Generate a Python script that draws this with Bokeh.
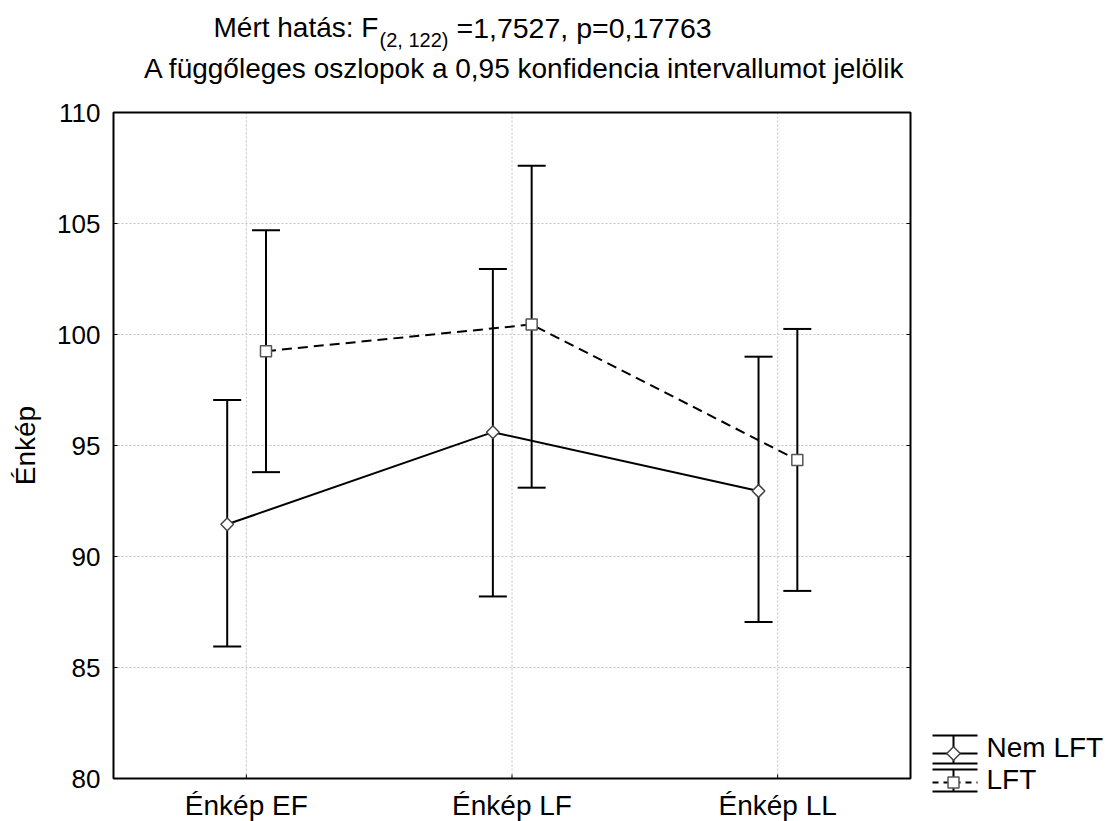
from bokeh.plotting import figure
from bokeh.models import (Range1d, Whisker, TeeHead, ColumnDataSource)
from bokeh.core.properties import value
from bokeh.embed import file_html
from bokeh.resources import INLINE
import math

# ---- data ----
categories = ["Énkép EF", "Énkép LF", "Énkép LL"]
series_names = ["Nem LFT", "LFT"]
nem_mean = [91.45, 95.6, 92.95]
nem_upper = [97.05, 102.95, 99.0]
nem_lower = [85.95, 88.2, 87.05]
lft_mean = [99.25, 100.45, 94.35]
lft_upper = [104.7, 107.6, 100.25]
lft_lower = [93.8, 93.1, 88.45]
y_ticks = [80, 85, 90, 95, 100, 105, 110]
y_tick_labels = [str(t) for t in y_ticks]
title_a = "Mért hatás: F"
title_sub = "(2, 122)"
title_c = "=1,7527, p=0,17763"
title_2 = "A függőleges oszlopok a 0,95 konfidencia intervallumot jelölik"
y_label = "Énkép"

FONT = "Liberation Sans"

# ---- layout constants (pixels) ----
W, H = 1108, 821
BOX_L, BOX_R, BOX_T, BOX_B = 113, 910, 112, 778
ncat = len(categories)
px_per_x = (BOX_R - BOX_L) / ncat
px_per_y = (BOX_B - BOX_T) / (y_ticks[-1] - y_ticks[0])
x_start = -0.5 - BOX_L / px_per_x
x_end = -0.5 + (W - BOX_L) / px_per_x
y_start = y_ticks[0] - (H - BOX_B) / px_per_y
y_end = y_ticks[-1] + BOX_T / px_per_y

p = figure(x_range=Range1d(x_start, x_end), y_range=Range1d(y_start, y_end),
           frame_width=W, frame_height=H, min_border=0,
           x_axis_location=None, y_axis_location=None,
           toolbar_location=None, output_backend="svg")
p.extra_x_ranges = {"px": Range1d(0, W)}
p.extra_y_ranges = {"px": Range1d(H, 0)}
p.outline_line_color = None
p.background_fill_color = "white"
p.border_fill_color = "white"
p.grid.visible = False

xc = list(range(ncat))
x_lo, x_hi = xc[0] - 0.5, xc[-1] + 0.5
y_lo, y_hi = y_ticks[0], y_ticks[-1]

# dotted grid
inner = y_ticks[1:-1]
p.segment(x0=[x_lo] * len(inner), x1=[x_hi] * len(inner), y0=inner, y1=inner,
          line_color="#c4c4c4", line_dash="2 2", line_width=1)
p.segment(x0=xc, x1=xc, y0=[y_lo] * ncat, y1=[y_hi] * ncat,
          line_color="#c4c4c4", line_dash="2 2", line_width=1)

# inward ticks
tlx = 4 / px_per_x
tly = 4 / px_per_y
p.segment(x0=xc, x1=xc, y0=[y_lo] * ncat, y1=[y_lo + tly] * ncat, line_color="black", line_width=1)
p.segment(x0=[x_hi - tlx] * len(y_ticks), x1=[x_hi] * len(y_ticks), y0=y_ticks, y1=y_ticks,
          line_color="black", line_width=1)
p.segment(x0=[x_lo] * len(y_ticks), x1=[x_lo + tlx] * len(y_ticks), y0=y_ticks, y1=y_ticks,
          line_color="black", line_width=1)

OFF_N = -0.072
OFF_L = 0.074
src_nem = ColumnDataSource(dict(x=[c + OFF_N for c in xc], mean=nem_mean, upper=nem_upper, lower=nem_lower))
src_lft = ColumnDataSource(dict(x=[c + OFF_L for c in xc], mean=lft_mean, upper=lft_upper, lower=lft_lower))

for src in (src_nem, src_lft):
    w = Whisker(base="x", upper="upper", lower="lower", source=src,
                line_color="black", line_width=2,
                upper_head=TeeHead(size=28, line_width=2, line_color="black"),
                lower_head=TeeHead(size=28, line_width=2, line_color="black"),
                level="glyph")
    p.add_layout(w)

p.line(x="x", y="mean", source=src_nem, line_color="black", line_width=2)
p.line(x="x", y="mean", source=src_lft, line_color="black", line_width=2, line_dash="10 6")

p.scatter(x="x", y="mean", source=src_nem, marker="square", angle=math.pi / 4, size=9,
          fill_color="white", line_color="#444444", line_width=1.5, level="overlay")
p.scatter(x="x", y="mean", source=src_lft, marker="square", size=11,
          fill_color="white", line_color="#555555", line_width=1.5, level="overlay")

# plot box
p.quad(left=[x_lo], right=[x_hi], bottom=[y_lo], top=[y_hi], fill_color=None,
       line_color="black", line_width=2, level="overlay")

TXT = dict(text_font=value(FONT), text_color="black", text_baseline="middle")

# y tick labels
p.text(x=[100] * len(y_ticks), y=y_ticks, x_range_name="px", text=y_tick_labels,
       text_font_size="26px", text_align="right", **TXT)

# category labels
p.text(x=xc, y=[805] * ncat, y_range_name="px", text=categories,
       text_font_size="28px", text_align="center", **TXT)

# y-axis title
p.text(x=[25], y=[(BOX_T + BOX_B) / 2], x_range_name="px", y_range_name="px", text=[y_label],
       angle=math.pi / 2, text_font_size="28px", text_align="center", **TXT)

# titles
p.text(x=[213], y=[27], x_range_name="px", y_range_name="px", text=[title_a],
       text_font_size="28px", text_align="left", **TXT)
p.text(x=[379], y=[39], x_range_name="px", y_range_name="px", text=[title_sub],
       text_font_size="20px", text_align="left", **TXT)
p.text(x=[456], y=[27], x_range_name="px", y_range_name="px", text=[title_c],
       text_font_size="28.5px", text_align="left", **TXT)
p.text(x=[524], y=[68], x_range_name="px", y_range_name="px", text=[title_2],
       text_font_size="28px", text_align="center", **TXT)

# legend
ix0, ix1, ixc = 932, 977, 953
p.segment(x0=[ix0, ix0, ix0, ixc], y0=[735, 753, 763, 735],
          x1=[ix1, ix1, ix1, ixc], y1=[735, 753, 763, 763],
          x_range_name="px", y_range_name="px", line_color="black", line_width=2)
p.scatter(x=[ixc], y=[753], x_range_name="px", y_range_name="px", marker="square",
          angle=math.pi / 4, size=9.5, fill_color="white", line_color="#444444", line_width=1.5)
p.segment(x0=[ix0, ix0, ixc], y0=[769, 791, 769], x1=[ix1, ix1, ixc], y1=[769, 791, 791],
          x_range_name="px", y_range_name="px", line_color="black", line_width=2)
p.segment(x0=[ix0], y0=[782], x1=[ix1], y1=[782], x_range_name="px", y_range_name="px",
          line_color="black", line_width=2, line_dash="6 5")
p.scatter(x=[ixc], y=[782], x_range_name="px", y_range_name="px", marker="square", size=11,
          fill_color="white", line_color="#555555", line_width=1.5)
p.text(x=[986, 986], y=[747, 779], x_range_name="px", y_range_name="px", text=series_names,
       text_font_size="28px", text_align="left", **TXT)

open("out.html", "w").write(file_html(p, INLINE))
